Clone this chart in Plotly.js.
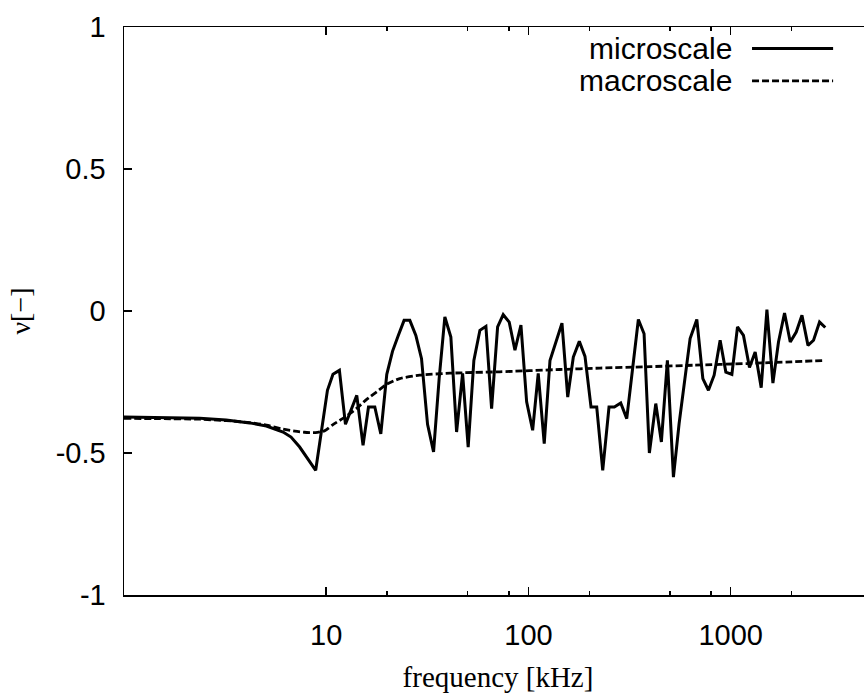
<!DOCTYPE html>
<html>
<head>
<meta charset="utf-8">
<script src="https://cdn.plot.ly/plotly-3.0.1.min.js"></script>
<style>
html, body { margin: 0; padding: 0; overflow: hidden; background: #fff; width: 864px; height: 696px; }
#plot { width: 872px; height: 696px; }
</style>
</head>
<body>
<div id="plot"></div>
<script>
// frequency [kHz] and Poisson ratio nu
const microFreq = [1, 1.5, 2.37, 3.2, 4.18, 5.06, 6.12, 6.7, 7.39, 8.87,
  10.14, 10.8, 11.62, 12.45, 14.16, 15.21, 16.18, 17.39, 18.62, 19.93,
  21.27, 22.72, 24.27, 25.91, 27.75, 29.6, 31.7, 33.95, 36.18, 38.61,
  41.34, 44.13, 47.25, 50.35, 53.72, 57.54, 61.62, 65.74, 70.4, 75.03,
  80.35, 85.76, 91.82, 97.97, 104.9, 111.8, 119.7, 127.8, 136.8, 146.5,
  156.4, 166.7, 178.5, 190.4, 203.9, 217.6, 233, 250.3, 266, 286,
  306.3, 328, 349.6, 373.1, 396.3, 426.3, 454.4, 486.6, 521.2, 555.9,
  593.4, 630.2, 680.3, 728.6, 776.5, 828.6, 887.2, 946.6, 1014, 1081,
  1157, 1239, 1322, 1416, 1511, 1618, 1724, 1847, 1971, 2110,
  2252, 2412, 2570, 2752, 2937];
const microNu = [-0.373, -0.375, -0.378, -0.384, -0.394, -0.405, -0.426, -0.444, -0.479, -0.561,
  -0.279, -0.223, -0.209, -0.399, -0.297, -0.473, -0.338, -0.338, -0.433, -0.223,
  -0.142, -0.086, -0.033, -0.033, -0.086, -0.168, -0.399, -0.496, -0.238, -0.021,
  -0.092, -0.426, -0.220, -0.479, -0.174, -0.068, -0.054, -0.344, -0.056, -0.013,
  -0.039, -0.138, -0.050, -0.320, -0.420, -0.220, -0.467, -0.174, -0.109, -0.043,
  -0.303, -0.162, -0.107, -0.160, -0.338, -0.338, -0.561, -0.338, -0.338, -0.324,
  -0.379, -0.203, -0.030, -0.080, -0.500, -0.326, -0.461, -0.174, -0.585, -0.397,
  -0.232, -0.097, -0.030, -0.238, -0.279, -0.226, -0.103, -0.215, -0.223, -0.056,
  -0.086, -0.199, -0.144, -0.270, 0.005, -0.254, -0.109, -0.007, -0.109, -0.074,
  -0.015, -0.121, -0.103, -0.039, -0.058];

const macroFreq = [1, 1.5, 2.37, 3.2, 4.18, 5.06, 6.12, 7.0, 7.8, 8.85,
  9.8, 10.8, 12.6, 14.3, 15.8, 17.8, 19.9, 23.1, 29, 40.9,
  72, 143, 226, 400, 655, 1200, 2000, 2940];
const macroNu = [-0.378, -0.379, -0.381, -0.386, -0.393, -0.402, -0.416, -0.423, -0.427, -0.428,
  -0.422, -0.400, -0.370, -0.340, -0.312, -0.284, -0.258, -0.238, -0.226, -0.219,
  -0.214, -0.206, -0.201, -0.196, -0.191, -0.185, -0.179, -0.174];

const seriesNames = ['microscale', 'macroscale'];
const xTickVals = [10, 100, 1000];
const xTickText = ['10', '100', '1000'];
const xMinorVals = [20, 50, 80, 200, 500, 800, 2000];
const yTickVals = [-1, -0.5, 0, 0.5, 1];
const yTickText = ['-1', '-0.5', '0', '0.5', '1'];

const sansFont = 'Liberation Sans, Arial, Helvetica, sans-serif';
const serifFont = 'Liberation Serif, Times New Roman, serif';

const traces = [
  { x: microFreq, y: microNu, type: 'scatter', mode: 'lines', name: seriesNames[0],
    line: { color: '#000', width: 3 } },
  { x: macroFreq, y: macroNu, type: 'scatter', mode: 'lines', name: seriesNames[1],
    line: { color: '#000', width: 2.8, dash: '7px,3px', shape: 'spline', smoothing: 0.6 } }
];

// legend drawn manually: text right-aligned, sample to the right (as in the original)
const legX0 = 0.8396, legX1 = 0.948, legTextX = 0.815;
const legY = [0.962, 0.905];

const layout = {
  width: 872, height: 696,
  margin: { l: 124, r: 0, t: 27, b: 101 },
  paper_bgcolor: '#fff', plot_bgcolor: '#fff',
  showlegend: false,
  font: { family: sansFont, size: 29, color: '#000' },
  xaxis: {
    type: 'log', range: [0, Math.log10(5000)],
    tickmode: 'array', tickvals: xTickVals, ticktext: xTickText,
    ticks: 'inside', ticklen: 8, tickwidth: 1.5, tickcolor: '#000',
    minor: { tickmode: 'array', tickvals: xMinorVals, ticks: 'inside', ticklen: 4, tickwidth: 1.5, tickcolor: '#000', showgrid: false },
    showline: true, linecolor: '#000', linewidth: 1.5, mirror: 'ticks',
    showgrid: false, zeroline: false,
    tickfont: { family: sansFont, size: 29, color: '#000' },
    ticklabelstandoff: 14,
    title: { text: 'frequency [kHz]', font: { family: serifFont, size: 29, color: '#000' }, standoff: 16 }
  },
  yaxis: {
    range: [-1, 1],
    tickmode: 'array', tickvals: yTickVals, ticktext: yTickText,
    ticks: 'inside', ticklen: 8, tickwidth: 1.5, tickcolor: '#000',
    showline: true, linecolor: '#000', linewidth: 1.5, mirror: 'ticks',
    showgrid: false, zeroline: false,
    tickfont: { family: sansFont, size: 29, color: '#000' },
    ticklabelstandoff: 11,
    title: { text: 'ν[−]', font: { family: serifFont, size: 28, color: '#000' }, standoff: 17 }
  },
  annotations: seriesNames.map((n, i) => ({
    xref: 'paper', yref: 'paper', x: legTextX, y: legY[i],
    xanchor: 'right', yanchor: 'middle', showarrow: false, text: n,
    font: { family: sansFont, size: 30, color: '#000' }
  })),
  shapes: [
    { type: 'line', xref: 'paper', yref: 'paper', x0: legX0, x1: legX1, y0: legY[0], y1: legY[0],
      line: { color: '#000', width: 3 } },
    { type: 'line', xref: 'paper', yref: 'paper', x0: legX0, x1: legX1, y0: legY[1], y1: legY[1],
      line: { color: '#000', width: 2.8, dash: '7px,3px' } }
  ]
};

Plotly.newPlot('plot', traces, layout, { displayModeBar: false, staticPlot: true });
</script>
</body>
</html>
